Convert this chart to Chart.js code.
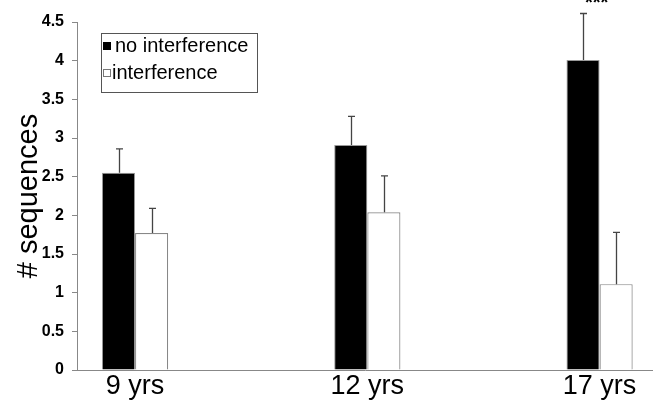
<!DOCTYPE html>
<html>
<head>
<meta charset="utf-8">
<script src="https://cdn.jsdelivr.net/npm/chart.js@4/dist/chart.umd.min.js"></script>
<style>
html,body{margin:0;padding:0;background:#fff;}
#wrap{width:653px;height:401px;position:relative;}
</style>
</head>
<body>
<div id="wrap"><canvas id="c" width="653" height="401"></canvas></div>
<script>
// ---- data ----
const categories = ['9 yrs', '12 yrs', '17 yrs'];
const seriesNames = ['no interference', 'interference'];
const noInterference = [2.55, 2.91, 4.01];
const noInterferenceErr = [0.31, 0.37, 0.60];   // upper error
const interference = [1.77, 2.04, 1.11];
const interferenceErr = [0.32, 0.47, 0.67];
const yTicks = [0, 0.5, 1, 1.5, 2, 2.5, 3, 3.5, 4, 4.5];
const significance = ['', '', '***'];

const FONT = '"Liberation Sans", Arial, sans-serif';

const errorBarPlugin = {
  id: 'errorBars',
  afterDatasetsDraw(chart) {
    const ctx = chart.ctx;
    const y = chart.scales.y;
    const errs = [noInterferenceErr, interferenceErr];
    ctx.save();
    chart.data.datasets.forEach((ds, di) => {
      const meta = chart.getDatasetMeta(di);
      meta.data.forEach((bar, i) => {
        const top = y.getPixelForValue(ds.data[i].y + errs[di][i]);
        const x = Math.round(bar.x) + 0.5;
        ctx.strokeStyle = '#444';
        ctx.lineWidth = 1.3;
        ctx.beginPath();
        ctx.moveTo(x, bar.y);
        ctx.lineTo(x, top);
        ctx.moveTo(x - 3.5, top);
        ctx.lineTo(x + 3.5, top);
        ctx.stroke();
      });
    });
    // significance marks (mostly cut off at the top edge, as in the original)
    ctx.fillStyle = '#000';
    ctx.font = 'bold 20px ' + FONT;
    ctx.textAlign = 'center';
    ctx.textBaseline = 'alphabetic';
    significance.forEach((s, i) => {
      if (!s) return;
      ctx.fillText(s, chart.scales.x.getPixelForValue(i) - 3, 8.5);
    });
    ctx.restore();
  }
};

const legendPlugin = {
  id: 'boxLegend',
  afterDraw(chart) {
    const ctx = chart.ctx;
    ctx.save();
    const L = 101, T = 33, W = 156, H = 59;
    ctx.strokeStyle = '#555';
    ctx.lineWidth = 1;
    ctx.strokeRect(L + 0.5, T + 0.5, W, H);
    ctx.font = '20px ' + FONT;
    ctx.textBaseline = 'middle';
    ctx.textAlign = 'left';
    const rows = [46, 73];
    chart.data.datasets.forEach((ds, i) => {
      const cy = rows[i];
      ctx.fillStyle = ds.backgroundColor;
      ctx.fillRect(103, cy - 4, 8, 8);
      ctx.strokeStyle = i === 0 ? '#000' : '#777';
      ctx.strokeRect(103.5, cy - 3.5, 7, 7);
      ctx.fillStyle = '#000';
      ctx.fillText(ds.label, i === 0 ? 115 : 112, cy);
    });
    ctx.restore();
  }
};

new Chart(document.getElementById('c'), {
  type: 'bar',
  data: {
    datasets: [
      {
        label: seriesNames[0],
        data: noInterference.map((v, i) => ({x: i, y: v})),
        backgroundColor: '#000',
        borderColor: '#999',
        borderWidth: 1,
        borderSkipped: 'start',
        categoryPercentage: 0.285,
        barPercentage: 1
      },
      {
        label: seriesNames[1],
        data: interference.map((v, i) => ({x: i, y: v})),
        backgroundColor: '#fff',
        borderColor: '#888',
        borderWidth: 1.2,
        borderSkipped: 'start',
        categoryPercentage: 0.285,
        barPercentage: 1
      }
    ]
  },
  options: {
    responsive: false,
    animation: false,
    layout: {padding: {top: 22, right: 0, left: 0, bottom: 0}},
    plugins: {legend: {display: false}, tooltip: {enabled: false}},
    scales: {
      x: {
        type: 'linear',
        min: -0.25,
        max: 2.23,
        offset: false,
        grid: {display: false, drawTicks: false, tickLength: 0, offset: false},
        border: {display: true, color: '#888', width: 1},
        afterBuildTicks(scale) { scale.ticks = categories.map((_, i) => ({value: i})); },
        afterFit(scale) { scale.height = 31; },
        ticks: {
          color: '#000',
          padding: 0,
          maxRotation: 0,
          autoSkip: false,
          font: {family: FONT, size: 27},
          callback: (v) => categories[v]
        }
      },
      y: {
        min: 0,
        max: 4.5,
        afterBuildTicks(scale) { scale.ticks = yTicks.map(v => ({value: v})); },
        afterFit(scale) { scale.width = 77; },
        grid: {display: true, drawOnChartArea: false, drawTicks: true, tickLength: 5, color: '#888'},
        border: {display: true, color: '#888', width: 1},
        ticks: {
          color: '#000',
          padding: 8,
          font: {family: FONT, size: 16, weight: 'bold'},
          callback: (v) => String(v)
        },
        title: {
          display: true,
          text: '# sequences',
          color: '#000',
          padding: {top: 12, bottom: 0},
          font: {family: FONT, size: 29}
        }
      }
    }
  },
  plugins: [errorBarPlugin, legendPlugin]
});
</script>
</body>
</html>
